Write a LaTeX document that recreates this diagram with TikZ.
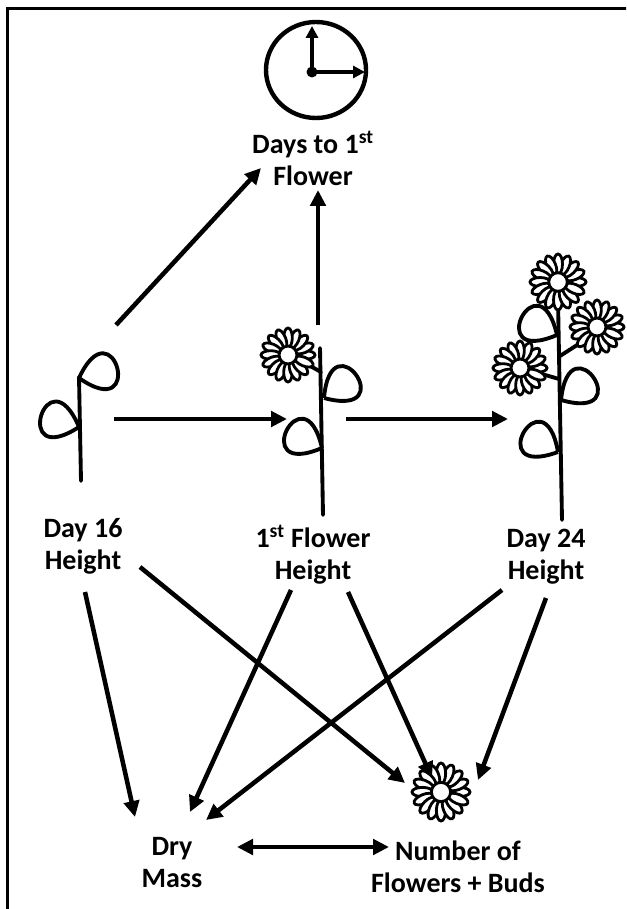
\documentclass[tikz,border=0pt]{standalone}
\usepackage{fontspec}
\setmainfont{Carlito}
\usetikzlibrary{arrows.meta,calc}

\tikzset{
  lbl/.style={font=\bfseries\fontsize{21}{24}\selectfont, align=center, inner sep=0pt},
  arr/.style={line width=3.4pt, -{Triangle[length=12pt,width=11.5pt]}},
  darr/.style={line width=3.4pt, {Triangle[length=12pt,width=11.5pt]}-{Triangle[length=12pt,width=11.5pt]}},
  hand/.style={line width=3.4pt, -{Triangle[length=9pt,width=9pt]}},
  stemline/.style={line width=2.9pt, line cap=round},
  leafline/.style={line width=2.9pt, line join=round},
  petal/.style={line width=2.1pt, fill=white},
  frameline/.style={line width=1.9pt},
}

% teardrop leaf: tip point (x,y), pointing along the given angle
\newcommand\leafat[3]{%
  \draw[leafline] (#1,#2) .. controls ($(#1,#2)+(#3+50:82)$) and ($(#1,#2)+(#3-50:82)$) .. (#1,#2);}

% daisy: centre (x,y), outer radius
\newcommand\daisy[3]{%
  \pgfmathsetmacro\pc{0.64*#3}%
  \pgfmathsetmacro\pa{0.36*#3}%
  \pgfmathsetmacro\pb{0.16*#3}%
  \pgfmathsetmacro\pr{0.33*#3}%
  \begin{scope}[shift={(#1,#2)}]
    \foreach \a in {0,22.5,...,337.5}
      \draw[petal, rotate=\a] (\pc,0) ellipse [x radius=\pa, y radius=\pb];
    \draw[petal] (0,0) circle [radius=\pr];
  \end{scope}}

\begin{document}
\begin{tikzpicture}[x=0.75pt, y=-0.75pt]
\useasboundingbox (0,0) rectangle (626,909);
\clip (0,0) rectangle (626,909);

% frame
\draw[frameline] (7.5,920) -- (7.5,8.5) -- (640,8.5);

% clock
\draw[line width=3.3pt] (316,70) ellipse [x radius=50, y radius=48];
\fill (312,72) circle [radius=5.5];
\draw[hand] (312,72) -- (312,26);
\draw[hand] (312,72) -- (365,72);

% plant at day 16
\draw[stemline] (79,377) -- (81,481);
\leafat{79}{378}{-15}
\leafat{79}{427}{-163}

% plant at first flower
\draw[stemline] (320,348) -- (323,515);
\draw[stemline] (321,372) -- (303,362);
\daisy{288}{355}{27}
\leafat{324}{398}{-35}
\leafat{322}{448}{-153}

% plant at day 24
\draw[stemline] (558,300) -- (562,520);
\draw[stemline] (560,356) -- (588,338);
\draw[stemline] (559,379) -- (535,372);
\daisy{558}{282}{28}
\daisy{597}{327}{27}
\daisy{520}{368}{27}
\leafat{557}{335}{-153}
\leafat{561}{400}{-34}
\leafat{558}{452}{-150}

% flower count icon
\daisy{441}{792}{29}

% labels
\node[lbl] (days) at (313,158) {Days to 1\textsuperscript{st}\\Flower};
\node[lbl] (h16)  at (83,546)  {Day 16\\Height};
\node[lbl] (hff)  at (313,555) {1\textsuperscript{st} Flower\\Height};
\node[lbl] (h24)  at (546,557) {Day 24\\Height};
\node[lbl] (dry)  at (172,863) {Dry\\Mass};
\node[lbl] (nfb)  at (458,867) {Number of\\Flowers + Buds};

% connector ports
\coordinate (p16up)   at (116,325);
\coordinate (daysl)   at (261,168);
\coordinate (pffup)   at (318,325);
\coordinate (daysb)   at (318,190);
\coordinate (p16r)    at (114,419);
\coordinate (pffl)    at (287,419);
\coordinate (pffr)    at (346,419);
\coordinate (p24l)    at (508,419);
\coordinate (h16s)    at (85,592);
\coordinate (h16se)   at (140,567);
\coordinate (hffsw)   at (291,590);
\coordinate (hffse)   at (348,592);
\coordinate (h24sw)   at (502,590);
\coordinate (h24s)    at (546,598);
\coordinate (dryn1)   at (135,817);
\coordinate (dryn2)   at (190,812);
\coordinate (dryn3)   at (206,820);
\coordinate (nfbn1)   at (405,783);
\coordinate (nfbn2)   at (432,778);
\coordinate (nfbn3)   at (478,780);
\coordinate (drye)    at (237,847);
\coordinate (nfbw)    at (389,847);

% connectors
\draw[arr] (p16up) -- (daysl);
\draw[arr] (pffup) -- (daysb);
\draw[arr] (p16r) -- (pffl);
\draw[arr] (pffr) -- (p24l);
\draw[arr] (h16s) -- (dryn1);
\draw[arr] (h16se) -- (nfbn1);
\draw[arr] (hffsw) -- (dryn2);
\draw[arr] (hffse) -- (nfbn2);
\draw[arr] (h24sw) -- (dryn3);
\draw[arr] (h24s) -- (nfbn3);
\draw[darr] (drye) -- (nfbw);
\end{tikzpicture}
\end{document}
